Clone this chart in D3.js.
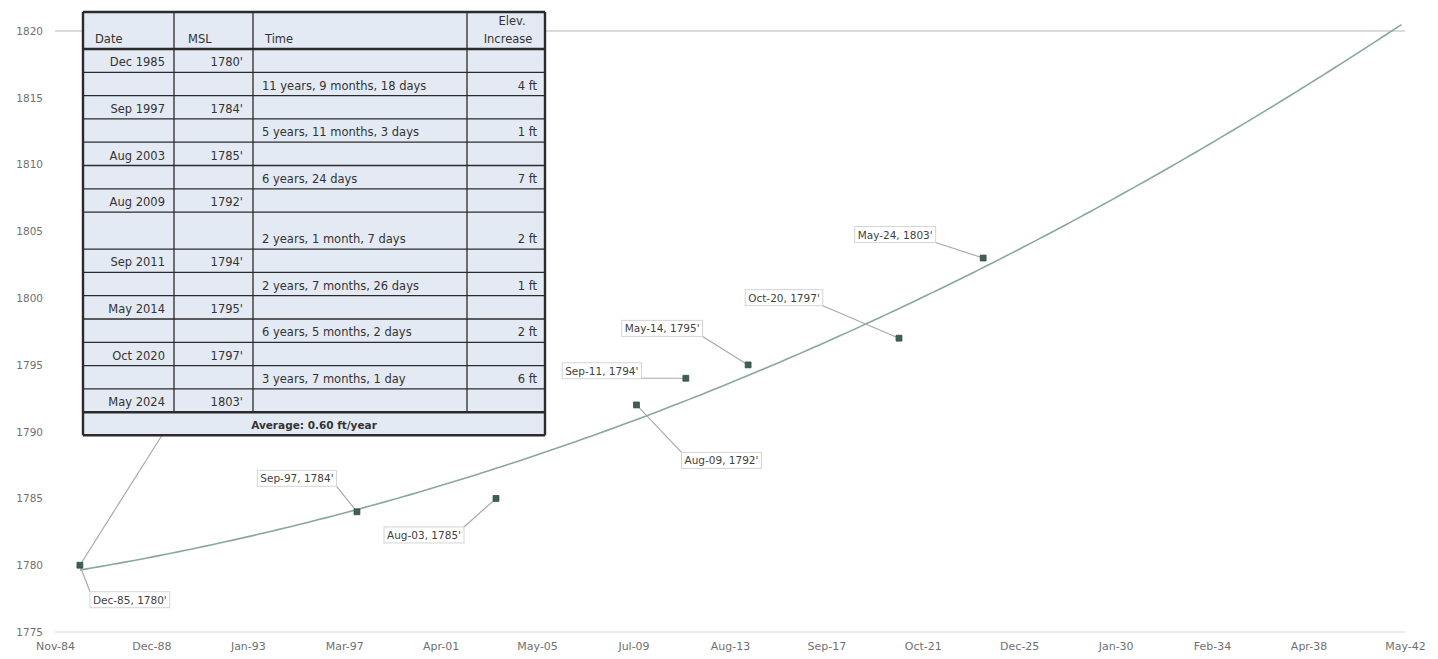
<!DOCTYPE html>
<html>
<head>
<meta charset="utf-8">
<script src="https://cdn.jsdelivr.net/npm/d3@7"></script>
<style>
  body { margin: 0; background: #fff; }
  svg { display: block; }
  text { font-family: "DejaVu Sans", Verdana, sans-serif; }
</style>
</head>
<body>
<svg id="chart" width="1438" height="659"></svg>
<script>
// Surveyed elevations (feet above mean sea level)
const surveyDates = ["1985-12-06", "1997-09-24", "2003-08-27", "2009-08-20",
                     "2011-09-27", "2014-05-23", "2020-10-25", "2024-05-26"];
const elevations = [1780, 1784, 1785, 1792, 1794, 1795, 1797, 1803];

// Elapsed time between consecutive surveys
const intervals = ["11 years, 9 months, 18 days", "5 years, 11 months, 3 days",
                   "6 years, 24 days", "2 years, 1 month, 7 days",
                   "2 years, 7 months, 26 days", "6 years, 5 months, 2 days",
                   "3 years, 7 months, 1 day"];
const averageRate = "Average: 0.60 ft/year";
const tableHeaders = ["Date", "MSL", "Time", ["Elev.", "Increase"]];

// Axis settings
const xDomain = ["1984-11-14", "2042-05-14"];
const xTickDates = ["1984-11-14", "1988-12-23", "1993-01-31", "1997-03-10", "2001-04-18",
                    "2005-05-27", "2009-07-05", "2013-08-13", "2017-09-21", "2021-10-30",
                    "2025-12-08", "2030-01-16", "2034-02-24", "2038-04-04", "2042-05-13"];
const yTicks = [1775, 1780, 1785, 1790, 1795, 1800, 1805, 1810, 1815, 1820];
const trendEnd = "2042-03-20";
const trendOrder = 2;

// Label placement (offset of each data label from its point, px)
const labelOffsets = [[50, 35], [-60, -33], [-72, 37], [85, 56],
                      [-84, -7], [-86, -36], [-115, -40], [-88, -23]];

const parse = d3.utcParse("%Y-%m-%d");
const data = surveyDates.map((d, i) => ({ date: parse(d), value: elevations[i] }));

const svg = d3.select("#chart");
const W = 1438, H = 659;
const m = { left: 55, right: 33, top: 31, bottom: 27 };

const x = d3.scaleUtc().domain(xDomain.map(parse)).range([m.left, W - m.right]);
const y = d3.scaleLinear().domain([1775, 1820]).range([H - m.bottom, m.top]);

// Gridline at top and baseline
svg.append("line").attr("x1", m.left).attr("x2", W - m.right)
  .attr("y1", y(1820)).attr("y2", y(1820))
  .attr("stroke", "#cfcfcf").attr("stroke-width", 1.5);
svg.append("line").attr("x1", m.left).attr("x2", W - m.right)
  .attr("y1", y(1775)).attr("y2", y(1775))
  .attr("stroke", "#d9d9d9").attr("stroke-width", 1);

// Y axis
const yAxis = svg.append("g").attr("transform", `translate(${m.left},0)`)
  .call(d3.axisLeft(y).tickValues(yTicks).tickSize(0).tickPadding(12).tickFormat(d3.format("d")));
yAxis.select(".domain").remove();
yAxis.selectAll("text").attr("font-size", 10.5).attr("fill", "#707070")
  .style("font-family", "'DejaVu Sans', sans-serif");

// X axis
const xAxis = svg.append("g").attr("transform", `translate(0,${y(1775)})`)
  .call(d3.axisBottom(x).tickValues(xTickDates.map(parse)).tickSize(0).tickPadding(10)
    .tickFormat(d3.utcFormat("%b-%y")));
xAxis.select(".domain").remove();
xAxis.selectAll("text").attr("font-size", 11).attr("fill", "#707070")
  .style("font-family", "'DejaVu Sans', sans-serif");

// Polynomial trend (least squares), projected forward
const t0 = data[0].date;
const yrs = d => (d - t0) / (365.25 * 864e5);
const ts = data.map(d => yrs(d.date));
const tm = d3.mean(ts);
const n = trendOrder + 1;
const A = d3.range(n).map(() => new Array(n + 1).fill(0));
ts.forEach((t, k) => {
  const s = (t - tm) / 10;
  for (let i = 0; i < n; i++) {
    for (let j = 0; j < n; j++) A[i][j] += s ** (i + j);
    A[i][n] += s ** i * elevations[k];
  }
});
for (let i = 0; i < n; i++) {            // Gauss-Jordan elimination
  let p = i;
  for (let r = i + 1; r < n; r++) if (Math.abs(A[r][i]) > Math.abs(A[p][i])) p = r;
  [A[i], A[p]] = [A[p], A[i]];
  for (let r = 0; r < n; r++) {
    if (r === i) continue;
    const f = A[r][i] / A[i][i];
    for (let c2 = i; c2 <= n; c2++) A[r][c2] -= f * A[i][c2];
  }
}
const coef = A.map((row, i) => row[n] / row[i]);
const fit = t => d3.sum(coef, (cf, i) => cf * ((t - tm) / 10) ** i);
const tEnd = yrs(parse(trendEnd));
const trendPts = d3.range(0, 201).map(k => {
  const t = tEnd * k / 200;
  return [x(new Date(+t0 + t * 365.25 * 864e5)), y(fit(t))];
});
svg.append("path").attr("d", d3.line()(trendPts))
  .attr("fill", "none").attr("stroke", "#88a7a3").attr("stroke-width", 1.6);

// Table geometry
const tbl = { top: 12, cols: [83, 174, 253, 467, 545] };
const rowHeights = [37];
for (let i = 0; i < 15; i++) rowHeights.push(i === 7 ? 37 : 23.3);
rowHeights.push(23);
const rowTops = [tbl.top];
rowHeights.forEach((h, i) => rowTops.push(rowTops[i] + h));
const tblBottom = rowTops[rowTops.length - 1];

// Leader from first point running under the table
svg.append("line")
  .attr("x1", x(data[0].date)).attr("y1", y(data[0].value))
  .attr("x2", tbl.cols[1] - 12).attr("y2", tblBottom)
  .attr("stroke", "#a9a9a9").attr("stroke-width", 1.2);

// Data labels with leader lines
const fmtLabel = d3.utcFormat("%b-%y");
const labelG = svg.append("g");
data.forEach((d, i) => {
  const px = x(d.date), py = y(d.value);
  const cx = px + labelOffsets[i][0], cy = py + labelOffsets[i][1];
  const g = labelG.append("g");
  const t = g.append("text").attr("x", cx).attr("y", cy + 3.5)
    .attr("text-anchor", "middle").attr("font-size", 10.5).attr("fill", "#3f3f3f")
    .text(`${fmtLabel(d.date)}, ${d.value}'`);
  const bb = t.node().getBBox();
  const bx0 = bb.x - 3, bx1 = bb.x + bb.width + 3, by0 = bb.y - 2, by1 = bb.y + bb.height + 2;
  g.insert("rect", "text").attr("x", bx0).attr("y", by0)
    .attr("width", bx1 - bx0).attr("height", by1 - by0)
    .attr("fill", "#fff").attr("stroke", "#d4d4d4").attr("stroke-width", 1);
  const ax = Math.max(bx0, Math.min(bx1, px)), ay = Math.max(by0, Math.min(by1, py));
  labelG.insert("line", ":first-child").attr("x1", ax).attr("y1", ay).attr("x2", px).attr("y2", py)
    .attr("stroke", "#a9a9a9").attr("stroke-width", 1.2);
});

// Markers
svg.append("g").selectAll("path").data(data).join("path")
  .attr("transform", d => `translate(${x(d.date)},${y(d.value)})`)
  .attr("d", d3.symbol(d3.symbolSquare, 34))
  .attr("fill", "#3d6152").attr("stroke", "#2f4a40").attr("stroke-width", 0.8);

// Summary table
const tg = svg.append("g");
tg.append("rect").attr("x", tbl.cols[0]).attr("y", tbl.top)
  .attr("width", tbl.cols[4] - tbl.cols[0]).attr("height", tblBottom - tbl.top)
  .attr("fill", "#e4eaf4");

const fmtRowDate = d3.utcFormat("%b %Y");
const rows = [];
data.forEach((d, i) => {
  rows.push({ date: fmtRowDate(d.date), msl: `${d.value}'` });
  if (i < data.length - 1) {
    rows.push({ time: intervals[i], inc: `${elevations[i + 1] - d.value} ft` });
  }
});

function txt(xp, yp, s, anchor) {
  return tg.append("text").attr("x", xp).attr("y", yp)
    .attr("text-anchor", anchor || "start").attr("font-size", 11.5).attr("fill", "#333").text(s);
}

// Header
const hb = rowTops[1] - 6;
txt(tbl.cols[0] + 12, hb, tableHeaders[0]);
txt(tbl.cols[1] + 14, hb, tableHeaders[1]);
txt(tbl.cols[2] + 12, hb, tableHeaders[2]);
txt((tbl.cols[3] + tbl.cols[4]) / 2 + 6, rowTops[0] + 13, tableHeaders[3][0], "middle");
txt((tbl.cols[3] + tbl.cols[4]) / 2 + 2, hb, tableHeaders[3][1], "middle");

rows.forEach((r, i) => {
  const top = rowTops[i + 1], h = rowHeights[i + 1];
  const base = top + h - 6;
  if (r.date) {
    txt(tbl.cols[1] - 9, base, r.date, "end");
    txt(tbl.cols[2] - 10, base, r.msl, "end");
  } else {
    txt(tbl.cols[2] + 9, base, r.time);
    txt(tbl.cols[4] - 8, base, r.inc, "end");
  }
});
txt((tbl.cols[0] + tbl.cols[4]) / 2, tblBottom - 6, averageRate, "middle")
  .attr("font-weight", "bold").attr("font-size", 10.5);

// Table rules
rowTops.forEach((yy, i) => {
  const thick = i === 0 || i === 1 || i === rowTops.length - 2 || i === rowTops.length - 1;
  tg.append("line").attr("x1", tbl.cols[0]).attr("x2", tbl.cols[4]).attr("y1", yy).attr("y2", yy)
    .attr("stroke", "#2b2b2b").attr("stroke-width", thick ? 2.4 : 1.3);
});
tbl.cols.forEach((xx, i) => {
  const outer = i === 0 || i === tbl.cols.length - 1;
  tg.append("line").attr("x1", xx).attr("x2", xx)
    .attr("y1", tbl.top).attr("y2", outer ? tblBottom : rowTops[rowTops.length - 2])
    .attr("stroke", "#2b2b2b").attr("stroke-width", outer ? 2.4 : 1.3);
});
</script>
</body>
</html>
